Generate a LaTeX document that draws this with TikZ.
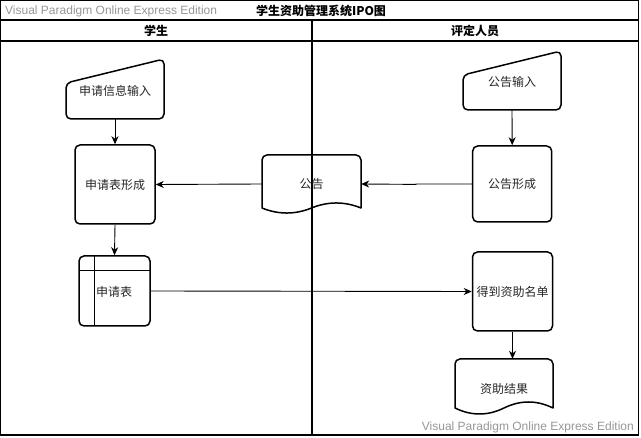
\documentclass[tikz,border=0pt]{standalone}
\usepackage{fontspec}
\newfontfamily\cjk{Noto Sans CJK SC}
\newfontfamily\wmfont{Liberation Sans}
\usetikzlibrary{arrows.meta}
\definecolor{wmgray}{RGB}{150,150,150}
\begin{document}
\begin{tikzpicture}[x=1pt,y=-1pt,
  lbl/.style={font=\cjk\fontsize{12}{14}\selectfont, text=black!85, inner sep=0pt},
  shp/.style={draw, line width=1.5pt, line join=round},
  rbox/.style={shp, rounded corners=5pt, lbl},
  ghost/.style={lbl, draw=none},
  arr/.style={draw, line width=0.9pt, -{Stealth[length=8pt,width=7pt,inset=2.5pt]}},
  frame/.style={draw, line width=1.2pt},
  wm/.style={font=\wmfont\fontsize{12}{14}\selectfont, text=wmgray, inner sep=0pt},
  head/.style={font=\cjk\bfseries\fontsize{12}{14}\selectfont, text=black, inner sep=0pt}
]
\useasboundingbox (0,0) rectangle (641,438);
% frame
\draw[frame] (0.6,0.6) rectangle (638.5,435);
\draw[frame] (0.6,20) -- (638.5,20);
\draw[frame] (0.6,41) -- (638.5,41);
\draw[frame] (312,20) -- (312,435);
% texts of frame
\node[wm, anchor=west] (wmtop) at (5,11) {Visual Paradigm Online Express Edition};
\node[wm, anchor=east] (wmbot) at (634,427) {Visual Paradigm Online Express Edition};
\node[head] (title) at (321,11) {学生资助管理系统IPO图};
\node[head] (lane1) at (156,31) {学生};
\node[head] (lane2) at (475,31) {评定人员};

% 申请信息输入 (manual input)
\draw[shp, rounded corners=5pt] (66,83) -- (164,59) -- (164,119) -- (66,119) -- cycle;
\node[ghost, minimum width=98pt, minimum height=56pt] (n1) at (115,91) {申请信息输入};

% 申请表形成
\node[rbox, minimum width=80pt, minimum height=79pt] (n2) at (115,184.5) {申请表形成};

% 公告 (document)
\draw[shp] (262,208) [rounded corners=5pt] -- (262,155) -- (361,155) [sharp corners] -- (361,208)
  .. controls (344.5,201.3) and (328,201.3) .. (311.5,208)
  .. controls (295,214.7) and (278.5,214.7) .. (262,208) -- cycle;
\node[ghost, minimum width=99pt, minimum height=58pt] (gg) at (311.5,184) {公告};

% 申请表 (internal storage)
\node[rbox, minimum width=71pt, minimum height=70pt] (n3) at (114.5,291) {};
\draw[shp] (94.3,256) -- (94.3,326);
\draw[shp] (79,270.7) -- (150,270.7);
\node[ghost] (n3t) at (114,292) {申请表};

% 公告输入 (manual input)
\draw[shp, rounded corners=5pt] (463,75) -- (561,51) -- (561,110) -- (463,110) -- cycle;
\node[ghost, minimum width=98pt, minimum height=56pt] (r1) at (512,82) {公告输入};

% 公告形成
\node[rbox, minimum width=79pt, minimum height=76pt] (r2) at (512.2,184) {公告形成};

% 得到资助名单
\node[rbox, minimum width=80pt, minimum height=79pt] (m) at (512.5,291.5) {得到资助名单};

% 资助结果 (document)
\draw[shp] (455,408) [rounded corners=5pt] -- (455,359) -- (553,359) [sharp corners] -- (553,408)
  .. controls (536.7,400) and (520.3,400) .. (504,408)
  .. controls (487.7,416) and (471.3,416) .. (455,408) -- cycle;
\node[ghost, minimum width=98pt, minimum height=60pt] (res) at (504,389) {资助结果};

% connectors
\coordinate (j1) at (416,183.4);
\coordinate (j2) at (416,184.4);
\draw[arr] (n1.south) -- (n2.north);
\draw[arr] (gg.west) -- (n2.east);
\draw[arr] (n2.south) -- (n3.north);
\draw[arr] (n3.east) -- (m.west);
\draw[arr] (r1.south) -- (r2.north);
\draw[arr] (r2.west) -- (r2.west -| j1) -- (j2) -- (gg.east);
\draw[arr] (m.south) -- (m.south |- res.north);
\end{tikzpicture}
\end{document}
